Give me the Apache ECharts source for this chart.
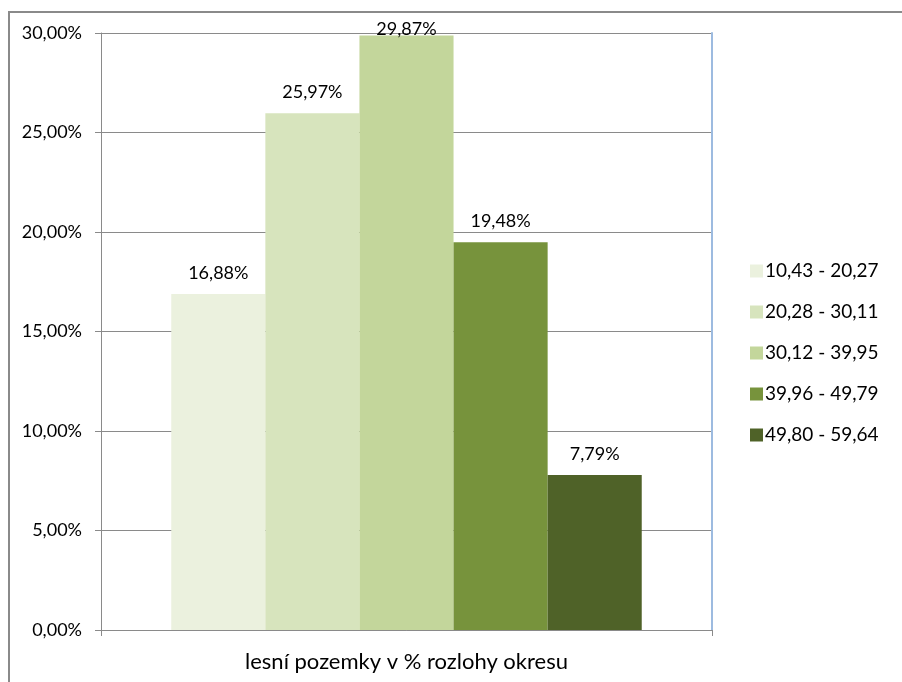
<!DOCTYPE html>
<html><head><meta charset="utf-8">
<script src="https://cdn.jsdelivr.net/npm/echarts@6/dist/echarts.min.js"></script>
<style>html,body{margin:0;padding:0;background:#fff}#c{width:902px;height:682px}</style>
</head><body><div id="c"></div>
<script>
const categories = ['lesní pozemky v % rozlohy okresu'];
const seriesNames = ['10,43 - 20,27','20,28 - 30,11','30,12 - 39,95','39,96 - 49,79','49,80 - 59,64'];
const seriesValues = [16.88, 25.97, 29.87, 19.48, 7.79];
const seriesColors = ['#EBF1DE','#D7E4BD','#C3D69B','#77933C','#4F6228'];
const yTicks = {min:0, max:30, interval:5};

const FONT = 'Lato';
const fmt = v => v.toFixed(2).replace('.', ',') + '%';

const chart = echarts.init(document.getElementById('c'), null, {renderer:'canvas'});
chart.setOption({
  backgroundColor:'#fff',
  animation:false,
  textStyle:{fontFamily:FONT},
  graphic:[{type:'rect', shape:{x:9, y:12, width:920, height:700}, style:{fill:'none', stroke:'#8a8a8a', lineWidth:2}, silent:true}],
  grid:{left:101, top:33, right:190, bottom:52, containLabel:false, outerBoundsMode:'none'},
  legend:{orient:'vertical', left:745, top:256, itemWidth:13, itemHeight:13, itemGap:21,
    icon:'rect', textStyle:{fontFamily:FONT, fontSize:19, color:'#000', lineHeight:20, padding:[0,0,0,-3]},
    data:seriesNames},
  xAxis:{type:'category', data:categories,
    axisLine:{lineStyle:{color:'#8a8a8a', width:1}},
    axisTick:{show:true, length:6, lineStyle:{color:'#8a8a8a'}},
    axisLabel:{show:false},
    name:categories[0], nameLocation:'middle', nameGap:21,
    nameTextStyle:{fontFamily:FONT, fontSize:22, color:'#000'}},
  yAxis:[{type:'value', min:yTicks.min, max:yTicks.max, interval:yTicks.interval,
    axisLine:{show:true, lineStyle:{color:'#8a8a8a'}},
    axisTick:{show:true, length:6, lineStyle:{color:'#8a8a8a'}},
    splitLine:{lineStyle:{color:'#8a8a8a'}},
    axisLabel:{fontFamily:FONT, fontSize:18, color:'#000', margin:19, formatter:v=>fmt(v)}},
    {type:'value', position:'right', min:yTicks.min, max:yTicks.max, interval:yTicks.interval,
    axisLine:{show:true, lineStyle:{color:'#9DBBE0', width:2}}, axisTick:{show:false},
    axisLabel:{show:false}, splitLine:{show:false}}],
  series: seriesNames.map((n,i)=>({
    name:n, type:'bar', yAxisIndex:0,
    data:[i===2 ? {value:seriesValues[i], label:{distance:-3}} : seriesValues[i]],
    barGap:'0%', barCategoryGap:'23%',
    itemStyle:{color:seriesColors[i]},
    label:{show:true, position:'top', distance:12, fontFamily:FONT, fontSize:18, color:'#000',
      formatter:p=>fmt(p.value)}
  }))
});
</script></body></html>
